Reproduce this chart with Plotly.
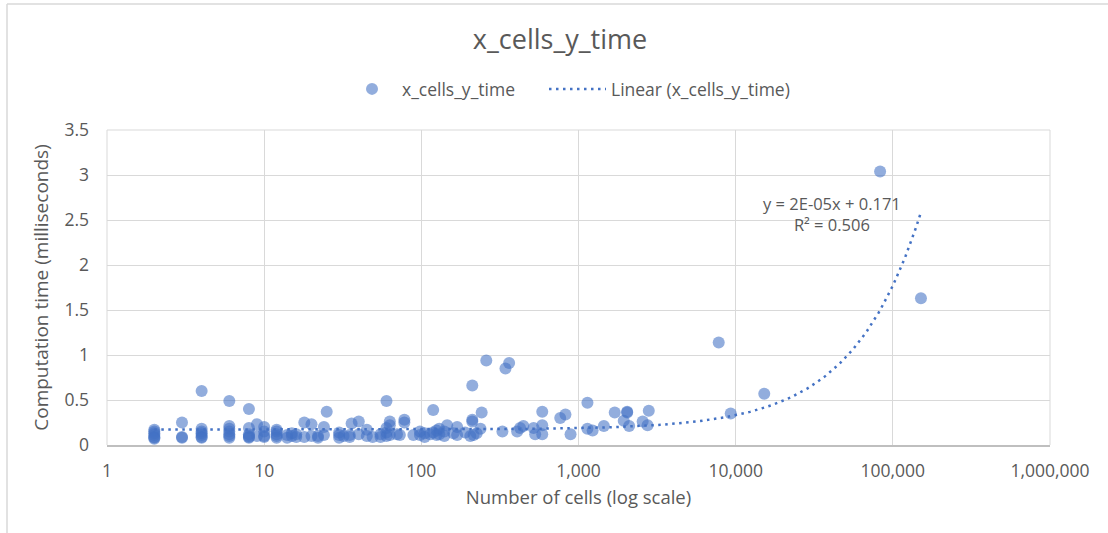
import numpy as np
import plotly.graph_objects as go

cells = [
    2, 2, 2, 2, 2, 2, 2,
    3, 3, 3,
    4, 4, 4, 4, 4, 4, 4,
    6, 6, 6, 6, 6, 6, 6,
    8, 8, 8, 8, 8, 8,
    9, 9,
    10, 10, 10, 10,
    12, 12, 12, 12, 12,
    14, 14, 15, 15, 16, 16, 18, 18, 20, 20, 22, 22,
    24, 24, 25, 30, 30, 30, 32, 35, 35, 36, 40, 40, 45, 45, 49, 55, 55,
    60, 60, 60, 60, 63, 63, 63, 70, 73, 78, 78, 89, 98, 98, 105, 105,
    114, 119, 119, 125, 125, 130, 130, 140, 140, 146, 160, 169, 169, 190,
    205, 211, 211, 211, 215, 225, 238, 242, 259, 328, 343, 362, 407, 425,
    446, 518, 530, 588, 588, 588, 765, 826, 890, 1140, 1140, 1230, 1450,
    1700, 1940, 2040, 2040, 2100, 2560, 2750, 2800,
    7800, 9300, 15200, 83000, 151000,
]
time_ms = [
    0.17, 0.15, 0.13, 0.11, 0.09, 0.08, 0.07,
    0.25, 0.09, 0.08,
    0.60, 0.18, 0.15, 0.13, 0.11, 0.09, 0.08,
    0.49, 0.21, 0.18, 0.15, 0.12, 0.10, 0.08,
    0.40, 0.19, 0.12, 0.10, 0.09, 0.08,
    0.23, 0.10,
    0.20, 0.15, 0.10, 0.09,
    0.17, 0.15, 0.12, 0.10, 0.08,
    0.11, 0.08, 0.13, 0.10, 0.09, 0.12, 0.25, 0.09, 0.23, 0.10, 0.08, 0.10,
    0.20, 0.11, 0.37, 0.11, 0.08, 0.14, 0.10, 0.11, 0.09, 0.24, 0.26, 0.12, 0.17, 0.10, 0.09, 0.09, 0.12,
    0.49, 0.19, 0.14, 0.10, 0.26, 0.11, 0.22, 0.12, 0.11, 0.28, 0.25, 0.11, 0.11, 0.15, 0.13, 0.09,
    0.12, 0.39, 0.14, 0.11, 0.16, 0.18, 0.12, 0.10, 0.15, 0.22, 0.13, 0.20, 0.11, 0.14,
    0.10, 0.66, 0.28, 0.26, 0.11, 0.13, 0.18, 0.36, 0.94, 0.15, 0.85, 0.91, 0.15, 0.19,
    0.21, 0.19, 0.12, 0.37, 0.22, 0.12, 0.30, 0.34, 0.12, 0.47, 0.18, 0.16, 0.21,
    0.36, 0.27, 0.37, 0.36, 0.21, 0.26, 0.22, 0.38,
    1.14, 0.35, 0.57, 3.04, 1.63,
]

trend_slope = 1.6e-05
trend_intercept = 0.171
trend_label = "y = 2E-05x + 0.171<br>R² = 0.506"

x_tickvals = [1, 10, 100, 1000, 10000, 100000, 1000000]
x_ticktext = ["1", "10", "100", "1,000", "10,000", "100,000", "1,000,000"]
y_tickvals = [0, 0.5, 1, 1.5, 2, 2.5, 3, 3.5]
y_ticktext = ["0", "0.5", "1", "1.5", "2", "2.5", "3", "3.5"]

FONT = "Open Sans"
TXT = "#595959"
GRID = "#d9d9d9"
BLUE = "#4472C4"

tx = np.logspace(np.log10(min(cells)), np.log10(max(cells)), 400)
ty = trend_slope * tx + trend_intercept

fig = go.Figure()
fig.add_trace(go.Scatter(
    x=cells, y=time_ms, mode="markers", name="x_cells_y_time", legend="legend",
    marker=dict(color=BLUE, size=12, opacity=0.58, line=dict(width=0)),
))
fig.add_trace(go.Scatter(
    x=tx, y=ty, mode="lines", name="Linear (x_cells_y_time)", legend="legend2",
    line=dict(color=BLUE, width=2.5, dash="2.5px,4.5px"),
))

W, H = 1108, 533
L, R, T, B = 107, 1050, 130, 445

def px_x(p):
    return (p - L) / (R - L)

def px_y(p):
    return (B - p) / (B - T)

legend_common = dict(orientation="h", xanchor="left", y=px_y(89), yanchor="middle",
                     font=dict(size=17.5, color=TXT, family=FONT),
                     bgcolor="rgba(0,0,0,0)")

fig.update_layout(
    width=W, height=H,
    margin=dict(l=L, r=W - R, t=T, b=H - B, pad=0),
    paper_bgcolor="white", plot_bgcolor="white",
    font=dict(family=FONT, color=TXT, size=16),
    title=dict(text="x_cells_y_time", x=560 / W, xanchor="center",
               y=1 - 40 / H, yanchor="middle", font=dict(size=27, color=TXT, family=FONT)),
    showlegend=True,
    legend=dict(x=px_x(342), itemwidth=50, **legend_common),
    legend2=dict(x=px_x(544), itemwidth=57, **legend_common),
    xaxis=dict(type="log", range=[0, 6], tickvals=x_tickvals, ticktext=x_ticktext,
               showgrid=True, gridcolor=GRID, gridwidth=1, zeroline=False,
               showline=True, linecolor="#bfbfbf", linewidth=1.5,
               ticks="", tickfont=dict(size=17.5, color=TXT), ticklabelstandoff=9,
               title=dict(text="Number of cells (log scale)", font=dict(size=18.5, color=TXT), standoff=10)),
    yaxis=dict(range=[0, 3.5], tickvals=y_tickvals, ticktext=y_ticktext,
               showgrid=True, gridcolor=GRID, gridwidth=1, zeroline=False,
               showline=False, ticks="", tickfont=dict(size=17.5, color=TXT), ticklabelstandoff=17,
               title=dict(text="Computation time (milliseconds)", font=dict(size=19, color=TXT), standoff=10)),
    annotations=[dict(text=trend_label, x=px_x(832), y=px_y(214), xref="paper", yref="paper",
                      xanchor="center", yanchor="middle",
                      showarrow=False, font=dict(size=16.5, color=TXT, family=FONT), align="center")],
    shapes=[
        dict(type="line", xref="paper", yref="paper", x0=px_x(7), x1=px_x(7), y0=px_y(4), y1=px_y(533),
             line=dict(color=GRID, width=1.5)),
        dict(type="line", xref="paper", yref="paper", x0=px_x(7), x1=px_x(1108), y0=px_y(4), y1=px_y(4),
             line=dict(color=GRID, width=1.5)),
        dict(type="line", xref="paper", yref="paper", x0=0, x1=1, y0=1, y1=1,
             line=dict(color=GRID, width=1)),
        dict(type="line", xref="paper", yref="paper", x0=1, x1=1, y0=0, y1=1,
             line=dict(color=GRID, width=1)),
        dict(type="line", xref="paper", yref="paper", x0=0, x1=0, y0=0, y1=1,
             line=dict(color=GRID, width=1)),
    ],
)

fig.write_html("out.html")
